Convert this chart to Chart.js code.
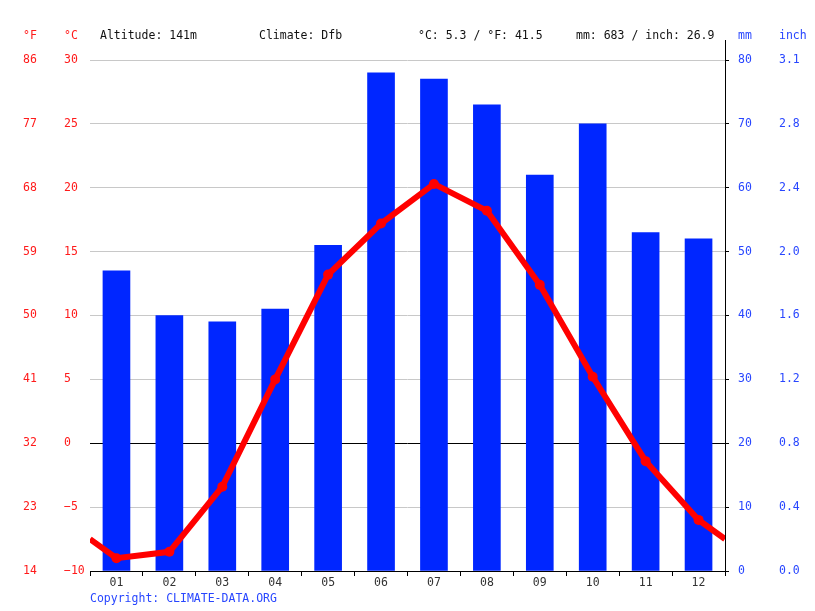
<!DOCTYPE html>
<html>
<head>
<meta charset="utf-8">
<script src="https://cdn.jsdelivr.net/npm/chart.js@4/dist/chart.umd.min.js"></script>
<style>
html,body{margin:0;padding:0;background:#fff;}
#wrap{position:relative;width:815px;height:611px;}
canvas{display:block;}
</style>
</head>
<body>
<div id="wrap"><canvas id="c" width="815" height="611"></canvas></div>
<script>
// ---- data ----
const months = ["01","02","03","04","05","06","07","08","09","10","11","12"];
const precipMm = [47, 40, 39, 41, 51, 78, 77, 73, 62, 70, 53, 52];
const tempC = [-9.0, -8.5, -3.4, 5.0, 13.2, 17.2, 20.3, 18.2, 12.4, 5.2, -1.4, -6.0];
const tempTicksC = [-10, -5, 0, 5, 10, 15, 20, 25, 30];
const mmTicks = [0, 10, 20, 30, 40, 50, 60, 70, 80];
const headerTexts = ["Altitude: 141m", "Climate: Dfb", "°C: 5.3 / °F: 41.5", "mm: 683 / inch: 26.9"];
const copyright = "Copyright: CLIMATE-DATA.ORG";

const FONT = '"DejaVu Sans Mono", "Liberation Mono", monospace';
const RED = '#ff1a1a';
const BLUE = '#2846ff';
const BAR = '#0026ff';

// line points at month centres, plus wrap-around continuation at the plot edges
const wrapVal = (tempC[0] + tempC[11]) / 2;
const linePts = [{x: 0.5, y: wrapVal}]
  .concat(tempC.map((v, i) => ({x: i + 1, y: v})))
  .concat([{x: 12.5, y: wrapVal}]);

const textPlugin = {
  id: 'texts',
  afterDraw(chart) {
    const ctx = chart.ctx;
    const a = chart.chartArea;
    ctx.save();
    ctx.font = '11.5px ' + FONT;
    ctx.textBaseline = 'middle';
    ctx.textAlign = 'left';
    ctx.fillStyle = RED;
    ctx.fillText('°F', 23, 36);
    ctx.fillText('°C', 64, 36);
    ctx.fillStyle = '#111';
    const xs = [100, 259, 418, 576];
    headerTexts.forEach((t, i) => ctx.fillText(t, xs[i], 36));
    ctx.fillStyle = BLUE;
    ctx.fillText('mm', 738, 36);
    ctx.fillText('inch', 779, 36);
    ctx.fillText(copyright, 90, 599);
    // right axis line extension above plot
    ctx.strokeStyle = '#000';
    ctx.lineWidth = 1;
    ctx.beginPath();
    ctx.moveTo(Math.round(a.right) + 0.5, 40);
    ctx.lineTo(Math.round(a.right) + 0.5, a.top);
    ctx.stroke();
    ctx.restore();
  }
};

new Chart(document.getElementById('c'), {
  type: 'bar',
  data: {
    labels: months,
    datasets: [
      {
        type: 'line',
        label: 'Temperature',
        data: linePts,
        xAxisID: 'x2',
        yAxisID: 'y',
        borderColor: '#ff0000',
        backgroundColor: '#ff0000',
        borderWidth: 6,
        pointRadius: (c) => (c.dataIndex === 0 || c.dataIndex === linePts.length - 1) ? 0 : 5,
        pointBorderWidth: 0,
        tension: 0,
        order: 0
      },
      {
        type: 'bar',
        label: 'Precipitation',
        data: precipMm,
        xAxisID: 'x',
        yAxisID: 'yMM',
        backgroundColor: BAR,
        borderWidth: 0,
        barThickness: 27,
        grouped: false,
        order: 1
      }
    ]
  },
  options: {
    responsive: false,
    animation: false,
    devicePixelRatio: 1,
    layout: {padding: {left: 23, right: 0, top: 60, bottom: 15}},
    plugins: {legend: {display: false}, tooltip: {enabled: false}},
    scales: {
      x: {
        type: 'category',
        position: 'bottom',
        offset: true,
        grid: {display: true, drawOnChartArea: false, drawTicks: true, tickLength: 5, color: '#000', offset: true},
        border: {display: true, color: '#000', width: 1},
        ticks: {color: '#333', font: {family: FONT, size: 11.5}, padding: 0, maxRotation: 0, autoSkip: false},
        afterFit(s) { s.height = 25; }
      },
      x2: {
        type: 'linear',
        display: false,
        offset: false,
        grid: {offset: false},
        min: 0.5,
        max: 12.5
      },
      y: {
        type: 'linear',
        position: 'left',
        weight: 0,
        min: -10,
        max: 30,
        afterBuildTicks(s) { s.ticks = tempTicksC.map(v => ({value: v})); },
        grid: {
          drawTicks: false,
          color: (c) => (c.tick && c.tick.value === 0) ? '#000' : '#c8c8c8',
          lineWidth: 1
        },
        border: {display: false},
        ticks: {color: RED, font: {family: FONT, size: 11.5}, crossAlign: 'far', padding: 0,
                callback: (v) => String(v).replace('-', '−')},
        afterFit(s) { s.width = 26; }
      },
      yF: {
        type: 'linear',
        position: 'left',
        weight: 1,
        min: -10,
        max: 30,
        afterBuildTicks(s) { s.ticks = tempTicksC.map(v => ({value: v})); },
        grid: {display: false, drawTicks: false},
        border: {display: false},
        ticks: {color: RED, font: {family: FONT, size: 11.5}, crossAlign: 'far', padding: 0,
                callback: (v) => String(Math.round(v * 9 / 5 + 32))},
        afterFit(s) { s.width = 41; }
      },
      yMM: {
        type: 'linear',
        position: 'right',
        weight: 0,
        min: 0,
        max: 80,
        afterBuildTicks(s) { s.ticks = mmTicks.map(v => ({value: v})); },
        grid: {display: true, drawOnChartArea: false, drawTicks: true, tickLength: 4, color: '#000'},
        border: {display: true, color: '#000', width: 1},
        ticks: {color: BLUE, font: {family: FONT, size: 11.5}, crossAlign: 'near', padding: 9},
        afterFit(s) { s.width = 54; }
      },
      yIn: {
        type: 'linear',
        position: 'right',
        weight: 1,
        min: 0,
        max: 80,
        afterBuildTicks(s) { s.ticks = mmTicks.map(v => ({value: v})); },
        grid: {display: false, drawTicks: false},
        border: {display: false},
        ticks: {color: BLUE, font: {family: FONT, size: 11.5}, crossAlign: 'near', padding: 0,
                callback: (v) => (v / 25.4).toFixed(1)},
        afterFit(s) { s.width = 36; }
      }
    }
  },
  plugins: [textPlugin]
});
</script>
</body>
</html>
